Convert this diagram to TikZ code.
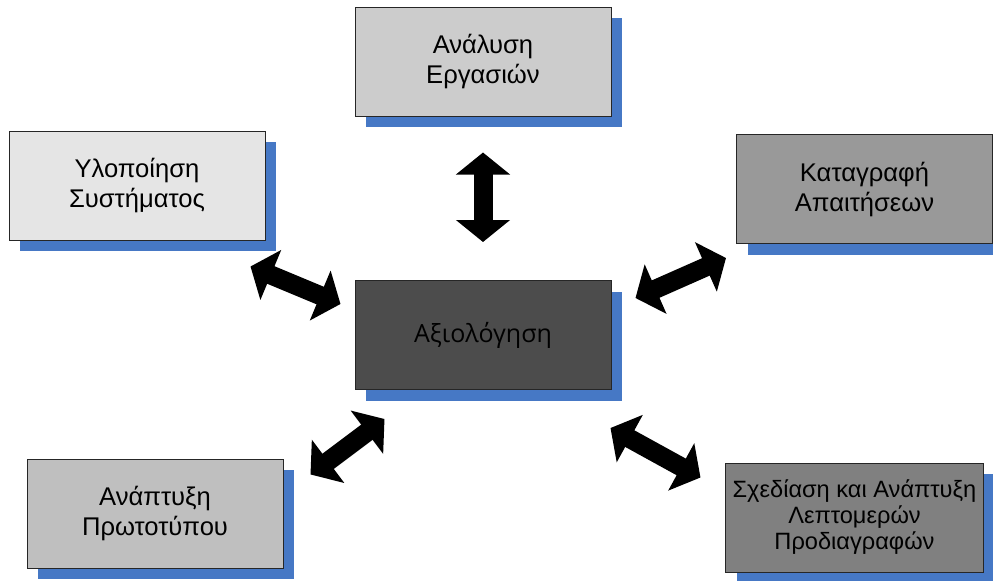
\documentclass[tikz,border=0pt]{standalone}
\usepackage{fontspec}
\setmainfont{Liberation Sans}
\newfontfamily\evalfont{Open Sans}
\usetikzlibrary{shapes,arrows.meta,shadows}
\definecolor{shadowblue}{RGB}{70,120,197}
\tikzset{
    %Define standard arrow tip
    >={Triangle[width=26.5pt,length=11pt]},
    %Define style for boxes
    block/.style={
           rectangle,
           draw=black!85,
           line width=0.5pt,
           minimum width=128pt,
           minimum height=54.5pt,
           align=center,
           font=\fontsize{12.8}{15}\selectfont,
           drop shadow={shadow xshift=5.5pt,shadow yshift=-5.5pt,opacity=1,fill=shadowblue}},
    % Define arrow style
    arrow/.style={
           <->,
           line width=9.5pt,
           }
}
\begin{document}
\begin{tikzpicture}[x=0.5pt, y=-0.5pt]
    \useasboundingbox (0,0) rectangle (993,580);
    \node [block, fill=black!20] (analysis) at (483,61.5) {Ανάλυση\\Εργασιών};
    \node [block, fill=black!10] (implement) at (137,185.5) {Υλοποίηση\\Συστήματος};
    \node [block, fill=black!40] (require) at (864.5,189) {Καταγραφή\\Απαιτήσεων};
    \node [block, fill=black!70] (evaluate) at (483,335) {\evalfont\fontsize{12.5}{15}\selectfont Αξιολόγηση};
    \node [block, fill=black!50, font=\fontsize{11.8}{13}\selectfont] (design) at (854.5,517.5) {Σχεδίαση και Ανάπτυξη\\Λεπτομερών\\Προδιαγραφών};
    \node [block, fill=black!25] (prototype) at (155,513.5) {Ανάπτυξη\\Πρωτοτύπου};

    \draw [arrow, shorten <=18pt, shorten >=19pt] (analysis) -- (evaluate);
    \draw [arrow] ([shift={(-15,26)}]implement.south east) -- ([shift={(-14,-31)}]evaluate.west);
    \draw [arrow] ([shift={(24,-37)}]evaluate.east) -- ([shift={(-10,14)}]require.south west);
    \draw [arrow] ([shift={(27,16)}]prototype.north east) -- ([shift={(30,29)}]evaluate.south west);
    \draw [arrow] ([shift={(-1,38)}]evaluate.south east) -- ([shift={(-25,15)}]design.north west);
\end{tikzpicture}
\end{document}
